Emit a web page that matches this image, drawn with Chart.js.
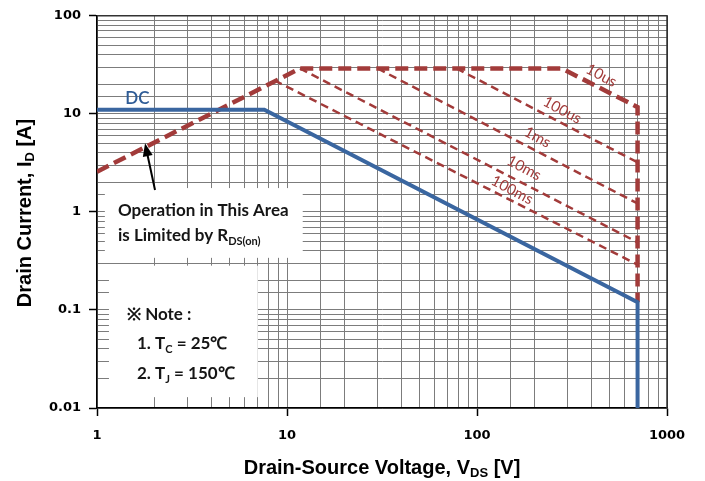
<!DOCTYPE html>
<html><head><meta charset="utf-8">
<script src="https://cdn.jsdelivr.net/npm/chart.js@4/dist/chart.umd.min.js"></script>
<style>html,body{margin:0;padding:0;background:#fff}#wrap{width:705px;height:481px}</style>
</head><body><div id="wrap"><canvas id="c" width="705" height="481"></canvas></div>
<script>
// ---- data ----
const xTicks = [1, 10, 100, 1000];
const yTicks = [0.01, 0.1, 1, 10, 100];
const dcV = [1, 7.6, 700, 700];
const dcI = [11, 11, 0.12, 0.01];
const limitV = [1, 11.7, 280, 700, 700];
const limitI = [2.57, 29, 29, 11.7, 0.12];
const us100V = [78, 700];  const us100I = [29, 3.2];
const ms1V = [30, 700];    const ms1I = [29, 1.22];
const ms10V = [11.7, 700]; const ms10I = [29, 0.49];
const ms100V = [8.6, 700]; const ms100I = [21.9, 0.29];
const curveLabels = ['10us', '100us', '1ms', '10ms', '100ms'];
const labelV = [451, 281, 208, 177, 153];
const labelI = [24.6, 10.9, 5.77, 2.8, 1.67];

const RED = '#A23B3A', BLUE = '#3A66A0', GRID = '#7c7c7c';
const pts = (xs, ys) => xs.map((x, i) => ({x, y: ys[i]}));
const isMajor = v => Math.abs(Math.log10(v) - Math.round(Math.log10(v))) < 1e-9;

function richWidth(ctx, parts, f, sf) {
  let w = 0;
  for (const p of parts) { ctx.font = p.sub ? sf : f; w += ctx.measureText(p.t).width; }
  return w;
}
function drawRich(ctx, parts, x, y, f, sf, align, subDy) {
  let w = richWidth(ctx, parts, f, sf);
  let cx = align === 'center' ? x - w / 2 : (align === 'right' ? x - w : x);
  ctx.textAlign = 'left';
  ctx.textBaseline = 'alphabetic';
  for (const p of parts) {
    ctx.font = p.sub ? sf : f;
    ctx.fillText(p.t, cx, y + (p.sub ? subDy : 0));
    cx += ctx.measureText(p.t).width;
  }
}

const overlay = {
  id: 'overlay',
  beforeDatasetsDraw(chart) {
    const {ctx, scales: {x, y}} = chart;
    ctx.save();
    ctx.fillStyle = '#fff';
    const box = (x0, x1, y0, y1) => {
      const px0 = x.getPixelForValue(x0), px1 = x.getPixelForValue(x1);
      const py0 = y.getPixelForValue(y0), py1 = y.getPixelForValue(y1);
      ctx.fillRect(px0, py0, px1 - px0, py1 - py0);
    };
    box(1.1, 12.1, 1.75, 0.34);
    box(1.156, 7.02, 0.283, 0.0129);
    ctx.restore();
  },
  afterDatasetsDraw(chart) {
    const {ctx, scales: {x, y}} = chart;
    ctx.save();
    // DC label
    ctx.fillStyle = '#2F5C96';
    ctx.font = '600 17px Lato';
    ctx.textAlign = 'center'; ctx.textBaseline = 'middle';
    ctx.fillText('DC', x.getPixelForValue(1.63), y.getPixelForValue(14.2));
    // pulse labels
    ctx.fillStyle = RED;
    ctx.font = '15px Lato';
    curveLabels.forEach((t, i) => {
      ctx.save();
      ctx.translate(x.getPixelForValue(labelV[i]), y.getPixelForValue(labelI[i]));
      ctx.rotate(28 * Math.PI / 180);
      ctx.textAlign = 'center'; ctx.textBaseline = 'middle';
      ctx.fillText(t, 0, 0);
      ctx.restore();
    });
    // arrow
    const tx = x.getPixelForValue(1.79), ty = y.getPixelForValue(5.0);
    const sx = x.getPixelForValue(2.02), sy = y.getPixelForValue(1.67);
    const ang = Math.atan2(ty - sy, tx - sx);
    ctx.strokeStyle = '#000'; ctx.fillStyle = '#000'; ctx.lineWidth = 2;
    ctx.beginPath(); ctx.moveTo(sx, sy);
    ctx.lineTo(tx - 9 * Math.cos(ang), ty - 9 * Math.sin(ang)); ctx.stroke();
    ctx.beginPath(); ctx.moveTo(tx, ty);
    ctx.lineTo(tx - 13 * Math.cos(ang) + 5 * Math.sin(ang), ty - 13 * Math.sin(ang) - 5 * Math.cos(ang));
    ctx.lineTo(tx - 13 * Math.cos(ang) - 5 * Math.sin(ang), ty - 13 * Math.sin(ang) + 5 * Math.cos(ang));
    ctx.closePath(); ctx.fill();
    // operation text
    ctx.fillStyle = '#151515';
    const F = 'bold 17px Lato', SF = 'bold 11px Lato';
    drawRich(ctx, [{t: 'Operation in This Area'}], 118, 216, F, SF, 'left', 0);
    drawRich(ctx, [{t: 'is Limited by R'}, {t: 'DS(on)', sub: true}], 118, 241, F, SF, 'left', 4);
    // note
    drawRich(ctx, [{t: '\u203B Note :'}], 127, 320, F, SF, 'left', 0);
    drawRich(ctx, [{t: '1. T'}, {t: 'C', sub: true}, {t: ' = 25\u2103'}], 137, 349, F, SF, 'left', 4);
    drawRich(ctx, [{t: '2. T'}, {t: 'J', sub: true}, {t: ' = 150\u2103'}], 137, 379, F, SF, 'left', 4);
    ctx.restore();
  },
  afterDraw(chart) {
    const {ctx, chartArea: a} = chart;
    ctx.save();
    ctx.strokeStyle = '#333'; ctx.lineWidth = 1.5;
    ctx.beginPath(); ctx.moveTo(a.left, a.top); ctx.lineTo(a.right, a.top); ctx.lineTo(a.right, a.bottom); ctx.stroke();
    ctx.fillStyle = '#000';
    const F = 'bold 20px "Liberation Sans"', SF = 'bold 13px "Liberation Sans"';
    drawRich(ctx, [{t: 'Drain-Source Voltage, V'}, {t: 'DS', sub: true}, {t: ' [V]'}], (a.left + a.right) / 2, 474, F, SF, 'center', 3);
    ctx.translate(31, 213); ctx.rotate(-Math.PI / 2);
    drawRich(ctx, [{t: 'Drain Current, I'}, {t: 'D', sub: true}, {t: ' [A]'}], 0, 0, F, SF, 'center', 3);
    ctx.restore();
  }
};

const tickFont = {family: '"DejaVu Sans"', size: 13, weight: 'bold'};
const gridOpts = (max) => ({
  color: c => (c.tick && Math.abs(c.tick.value - max) < 1e-9) ? '#333' : GRID,
  lineWidth: 1,
  tickLength: 8,
  tickColor: c => (c.tick && isMajor(c.tick.value)) ? '#000' : 'rgba(0,0,0,0)',
  tickWidth: 1.5
});

new Chart(document.getElementById('c'), {
  type: 'line',
  data: {
    datasets: [
      {label: 'DC', data: pts(dcV, dcI), borderColor: BLUE, borderWidth: 4},
      {label: '10us', data: pts(limitV, limitI), borderColor: RED, borderWidth: 4.5, borderDash: [13, 6]},
      {label: '100us', data: pts(us100V, us100I), borderColor: RED, borderWidth: 2.5, borderDash: [8, 5]},
      {label: '1ms', data: pts(ms1V, ms1I), borderColor: RED, borderWidth: 2.5, borderDash: [8, 5]},
      {label: '10ms', data: pts(ms10V, ms10I), borderColor: RED, borderWidth: 2.5, borderDash: [8, 5]},
      {label: '100ms', data: pts(ms100V, ms100I), borderColor: RED, borderWidth: 2.5, borderDash: [8, 5]}
    ]
  },
  options: {
    responsive: false, animation: false, devicePixelRatio: 1,
    events: [],
    layout: {padding: {top: 15, right: 38, left: 0, bottom: 0}},
    elements: {point: {radius: 0}, line: {tension: 0, fill: false}},
    plugins: {legend: {display: false}, tooltip: {enabled: false}},
    scales: {
      x: {
        type: 'logarithmic', min: 1, max: 1000,
        afterFit: s => { s.height = 73; },
        grid: gridOpts(1000),
        border: {color: '#000', width: 1.5},
        ticks: {autoSkip: false, maxRotation: 0, padding: 12, color: '#000', font: tickFont,
          callback: v => xTicks.includes(v) ? String(v) : ''}
      },
      y: {
        type: 'logarithmic', min: 0.01, max: 100,
        afterFit: s => { s.width = 97; },
        grid: gridOpts(100),
        border: {color: '#000', width: 1.5},
        ticks: {autoSkip: false, padding: 8, color: '#000', font: tickFont,
          callback: v => yTicks.some(t => Math.abs(t - v) < 1e-12) ? String(v) : ''}
      }
    }
  },
  plugins: [overlay]
});
</script></body></html>
